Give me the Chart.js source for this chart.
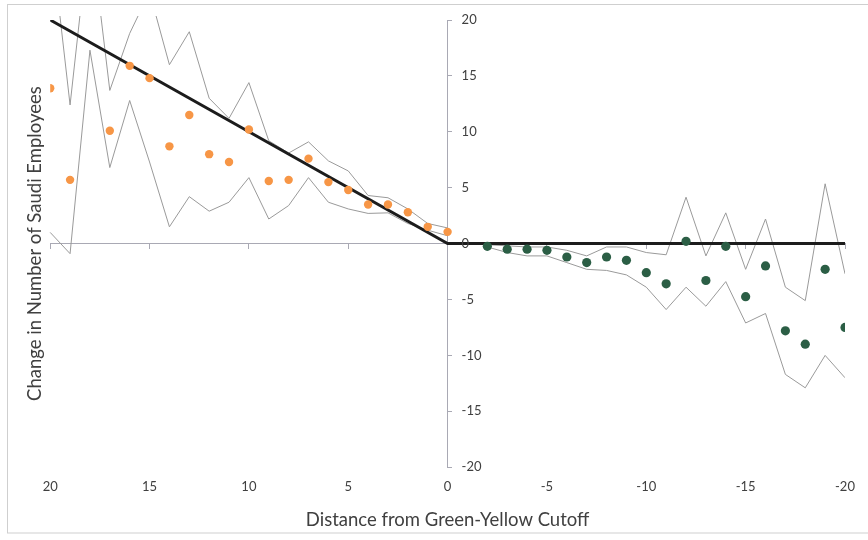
<!DOCTYPE html>
<html>
<head>
<meta charset="utf-8">
<title>Change in Number of Saudi Employees</title>
<script src="https://cdn.jsdelivr.net/npm/chart.js@4.4.1/dist/chart.umd.min.js"></script>
<style>
  html, body { margin: 0; padding: 0; background: #fff; }
  #wrap { width: 868px; height: 540px; }
</style>
</head>
<body>
<div id="wrap"><canvas id="grafico"></canvas></div>
<script>
// distance from the cutoff: yellow side (positive) and green side (negative)
const distYellow = [20, 19, 18, 17, 16, 15, 14, 13, 12, 11, 10, 9, 8, 7, 6, 5, 4, 3, 2, 1, 0];
const distGreen = [-2, -3, -4, -5, -6, -7, -8, -9, -10, -11, -12, -13, -14, -15, -16, -17, -18, -19, -20];

// point estimates
const yellowChange = [13.9, 5.7, 22, 10.1, 15.9, 14.8, 8.7, 11.5, 8.0, 7.3, 10.2, 5.6, 5.7, 7.6, 5.5, 4.8, 3.5, 3.5, 2.8, 1.5, 1.05];
const greenChange = [-0.24, -0.5, -0.5, -0.6, -1.2, -1.7, -1.2, -1.5, -2.6, -3.6, 0.2, -3.3, -0.24, -4.75, -2.0, -7.8, -9.0, -2.3, -7.5];

// confidence band edges
const yellowUpper = [28, 12.4, 28.5, 13.7, 18.8, 22.5, 16.0, 18.95, 13.0, 11.2, 14.4, 9.2, 8.1, 9.1, 7.4, 6.5, 4.3, 4.1, 3.1, 1.8, 1.4];
const yellowLower = [1.0, -0.9, 17.3, 6.8, 12.8, 7.3, 1.5, 4.2, 2.9, 3.7, 5.9, 2.2, 3.4, 5.9, 3.7, 3.1, 2.7, 2.75, 1.8, 1.2, 0.7];
const greenUpper = [-0.1, -0.2, -0.3, -0.3, -0.6, -1.1, -0.3, -0.3, -0.8, -1.0, 4.15, -1.1, 2.75, -2.3, 2.2, -3.9, -5.1, 5.35, -2.7];
const greenLower = [-0.3, -0.8, -1.1, -1.1, -1.7, -2.3, -2.4, -2.8, -3.9, -5.9, -3.9, -5.6, -3.4, -7.1, -6.25, -11.7, -12.9, -10.0, -12.0];

// kinked reference line: full pass-through above the cutoff, zero below
const refX = [20, 0, -20];
const refY = [20, 0, 0];

const yTicks = [20, 15, 10, 5, 0, -5, -10, -15, -20];

function pts(xs, ys) {
    return xs.map((x, i) => ({x: x, y: ys[i]}));
}

const textColor = '#404040';
const axisColor = '#a9a9b4';
const bandColor = '#9a9a9a';

// y tick labels sit to the right of the axis drawn at x = 0
const yTickLabels = {
    id: 'yTickLabels',
    afterDraw(chart) {
        const {ctx, scales} = chart;
        const x0 = scales.x.getPixelForValue(0);
        ctx.save();
        ctx.font = '13px Lato';
        ctx.fillStyle = textColor;
        ctx.textAlign = 'left';
        ctx.textBaseline = 'middle';
        yTicks.forEach(function(v) {
            ctx.fillText(String(v), x0 + 14, scales.y.getPixelForValue(v));
        });
        ctx.restore();
    }
};

const frame = {
    id: 'frame',
    beforeDraw(chart) {
        const ctx = chart.ctx;
        ctx.save();
        ctx.fillStyle = '#fff';
        ctx.fillRect(0, 0, chart.width, chart.height);
        ctx.strokeStyle = '#cfcfcf';
        ctx.lineWidth = 1;
        ctx.strokeRect(7.5, 4.5, chart.width + 20, 528.5);
        ctx.restore();
    }
};

Chart.defaults.font.family = 'Lato';
Chart.defaults.color = textColor;

const ctx = document.getElementById('grafico');

new Chart(ctx, {
    type: 'scatter',
    data: {
        datasets: [{
            data: pts(distYellow, yellowChange),
            backgroundColor: '#f79646',
            borderWidth: 0,
            pointRadius: 4.2,
            order: 0
        }, {
            data: pts(distGreen, greenChange),
            backgroundColor: '#2b5e45',
            borderWidth: 0,
            pointRadius: 4.6,
            order: 0
        }, {
            data: pts(refX, refY),
            showLine: true,
            borderColor: '#1c1c1c',
            borderWidth: 3,
            pointRadius: 0,
            order: 1
        }, {
            data: pts(distYellow, yellowUpper),
            showLine: true,
            borderColor: bandColor,
            borderWidth: 1,
            pointRadius: 0,
            clip: 4,
            order: 2
        }, {
            data: pts(distYellow, yellowLower),
            showLine: true,
            borderColor: bandColor,
            borderWidth: 1,
            pointRadius: 0,
            clip: 4,
            order: 2
        }, {
            data: pts(distGreen, greenUpper),
            showLine: true,
            borderColor: bandColor,
            borderWidth: 1,
            pointRadius: 0,
            order: 2
        }, {
            data: pts(distGreen, greenLower),
            showLine: true,
            borderColor: bandColor,
            borderWidth: 1,
            pointRadius: 0,
            order: 2
        }]
    },
    options: {
        responsive: true,
        maintainAspectRatio: false,
        animation: false,
        layout: {
            padding: {left: 20, right: 23, top: 20, bottom: 7}
        },
        plugins: {
            legend: {display: false},
            tooltip: {enabled: false}
        },
        scales: {
            x: {
                type: 'linear',
                min: -20,
                max: 20,
                reverse: true,
                position: {y: 0},
                ticks: {display: false, stepSize: 5},
                grid: {drawOnChartArea: false, drawTicks: true, tickLength: 5, color: axisColor},
                border: {color: axisColor, width: 1}
            },
            x2: {
                axis: 'x',
                type: 'linear',
                min: -20,
                max: 20,
                reverse: true,
                position: 'bottom',
                grid: {display: false, drawTicks: false},
                border: {display: false},
                ticks: {stepSize: 5, padding: 12, font: {size: 13}, maxRotation: 0},
                title: {
                    display: true,
                    text: 'Distance from Green-Yellow Cutoff',
                    font: {size: 18.5},
                    padding: {top: 2, bottom: 2}
                }
            },
            y: {
                type: 'linear',
                min: -20,
                max: 20,
                position: {x: 0},
                ticks: {display: false, stepSize: 5},
                // negative length puts the tick marks on the label side
                grid: {drawOnChartArea: false, drawTicks: true, tickLength: -5, color: axisColor},
                border: {color: axisColor, width: 1}
            },
            yTitle: {
                axis: 'y',
                type: 'linear',
                min: -20,
                max: 20,
                position: 'left',
                ticks: {display: false},
                grid: {display: false, drawTicks: false},
                border: {display: false},
                title: {
                    display: true,
                    text: 'Change in Number of Saudi Employees',
                    font: {size: 18.5},
                    padding: {top: 4, bottom: 4}
                }
            }
        }
    },
    plugins: [frame, yTickLabels]
});
</script>
</body>
</html>
